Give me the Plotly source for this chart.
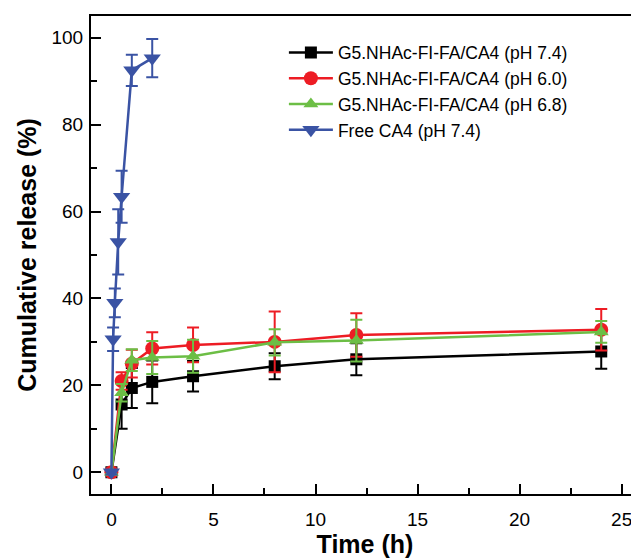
import plotly.graph_objects as go

# ---- data ----
t_np = [0, 0.5, 1, 2, 4, 8, 12, 24]
ph74 = [0, 15.6, 19.4, 20.8, 22.1, 24.4, 26.0, 27.8]
ph74_err = [0.5, 5.6, 4.6, 4.9, 3.5, 3.0, 3.7, 4.0]
ph60 = [0, 21.0, 25.0, 28.5, 29.3, 30.0, 31.6, 32.8]
ph60_err = [0.5, 2.0, 3.2, 3.7, 4.0, 7.0, 5.0, 4.8]
ph68 = [0, 18.3, 25.8, 26.4, 26.7, 29.9, 30.3, 32.3]
ph68_err = [0.5, 2.0, 2.5, 3.8, 3.8, 3.0, 4.8, 2.5]

t_free = [0, 0.083, 0.167, 0.333, 0.5, 1, 2]
free = [0, 30.6, 39.0, 53.0, 63.4, 92.5, 95.3]
free_err = [0.5, 2.7, 3.3, 7.5, 6.0, 3.6, 4.4]

names = ["G5.NHAc-FI-FA/CA4 (pH 7.4)", "G5.NHAc-FI-FA/CA4 (pH 6.0)",
         "G5.NHAc-FI-FA/CA4 (pH 6.8)", "Free CA4 (pH 7.4)"]
colors = ["#000000", "#ED1C24", "#6CBE45", "#3A53A4"]
symbols = ["square", "circle", "triangle-up", "triangle-down"]
sizes = [12, 14, 13, 15]

series = [(t_np, ph74, ph74_err), (t_np, ph60, ph60_err),
          (t_np, ph68, ph68_err), (t_free, free, free_err)]

fig = go.Figure()
for (x, y, e), n, c, s, sz in zip(series, names, colors, symbols, sizes):
    fig.add_trace(go.Scatter(
        x=x, y=y, name=n, mode="lines+markers",
        line=dict(color=c, width=2.5),
        marker=dict(symbol=s, size=sz, color=c),
        error_y=dict(type="data", array=e, visible=True, color=c,
                     thickness=2, width=6),
    ))

axis_font = dict(family="Liberation Sans, Arial", size=19, color="black")
fig.update_layout(
    width=639, height=559,
    margin=dict(l=83, r=8, t=8, b=73),
    paper_bgcolor="white", plot_bgcolor="white",
    font=dict(family="Liberation Sans, Arial", color="black"),
    showlegend=True,
    legend=dict(x=0.352, y=0.961, xanchor="left", yanchor="top",
                bgcolor="rgba(0,0,0,0)", font=dict(size=17.5, color="black"),
                tracegroupgap=0, itemwidth=44),
    xaxis=dict(
        range=[-1, 25.85], showgrid=False, zeroline=False, automargin=False,
        showline=True, linecolor="black", linewidth=2, mirror=True,
        ticks="inside", ticklen=10, tickwidth=1.5, tickcolor="black",
        tick0=0, dtick=5, tickfont=axis_font, ticklabelstandoff=7,
        minor=dict(ticks="inside", ticklen=6, tickwidth=1.5, tickcolor="black", dtick=2.5),
        title=dict(text="<b>Time (h)</b>", font=dict(size=25, color="black"), standoff=4),
    ),
    yaxis=dict(
        range=[-5, 105], showgrid=False, zeroline=False, automargin=False,
        showline=True, linecolor="black", linewidth=2, mirror=False,
        ticks="inside", ticklen=10, tickwidth=1.5, tickcolor="black",
        tick0=0, dtick=20, tickfont=axis_font, ticklabelstandoff=2,
        minor=dict(ticks="inside", ticklen=6, tickwidth=1.5, tickcolor="black", dtick=10),
        title=dict(text="<b>Cumulative release (%)</b>", font=dict(size=25, color="black"), standoff=8),
    ),
)

fig.write_html("out.html")
